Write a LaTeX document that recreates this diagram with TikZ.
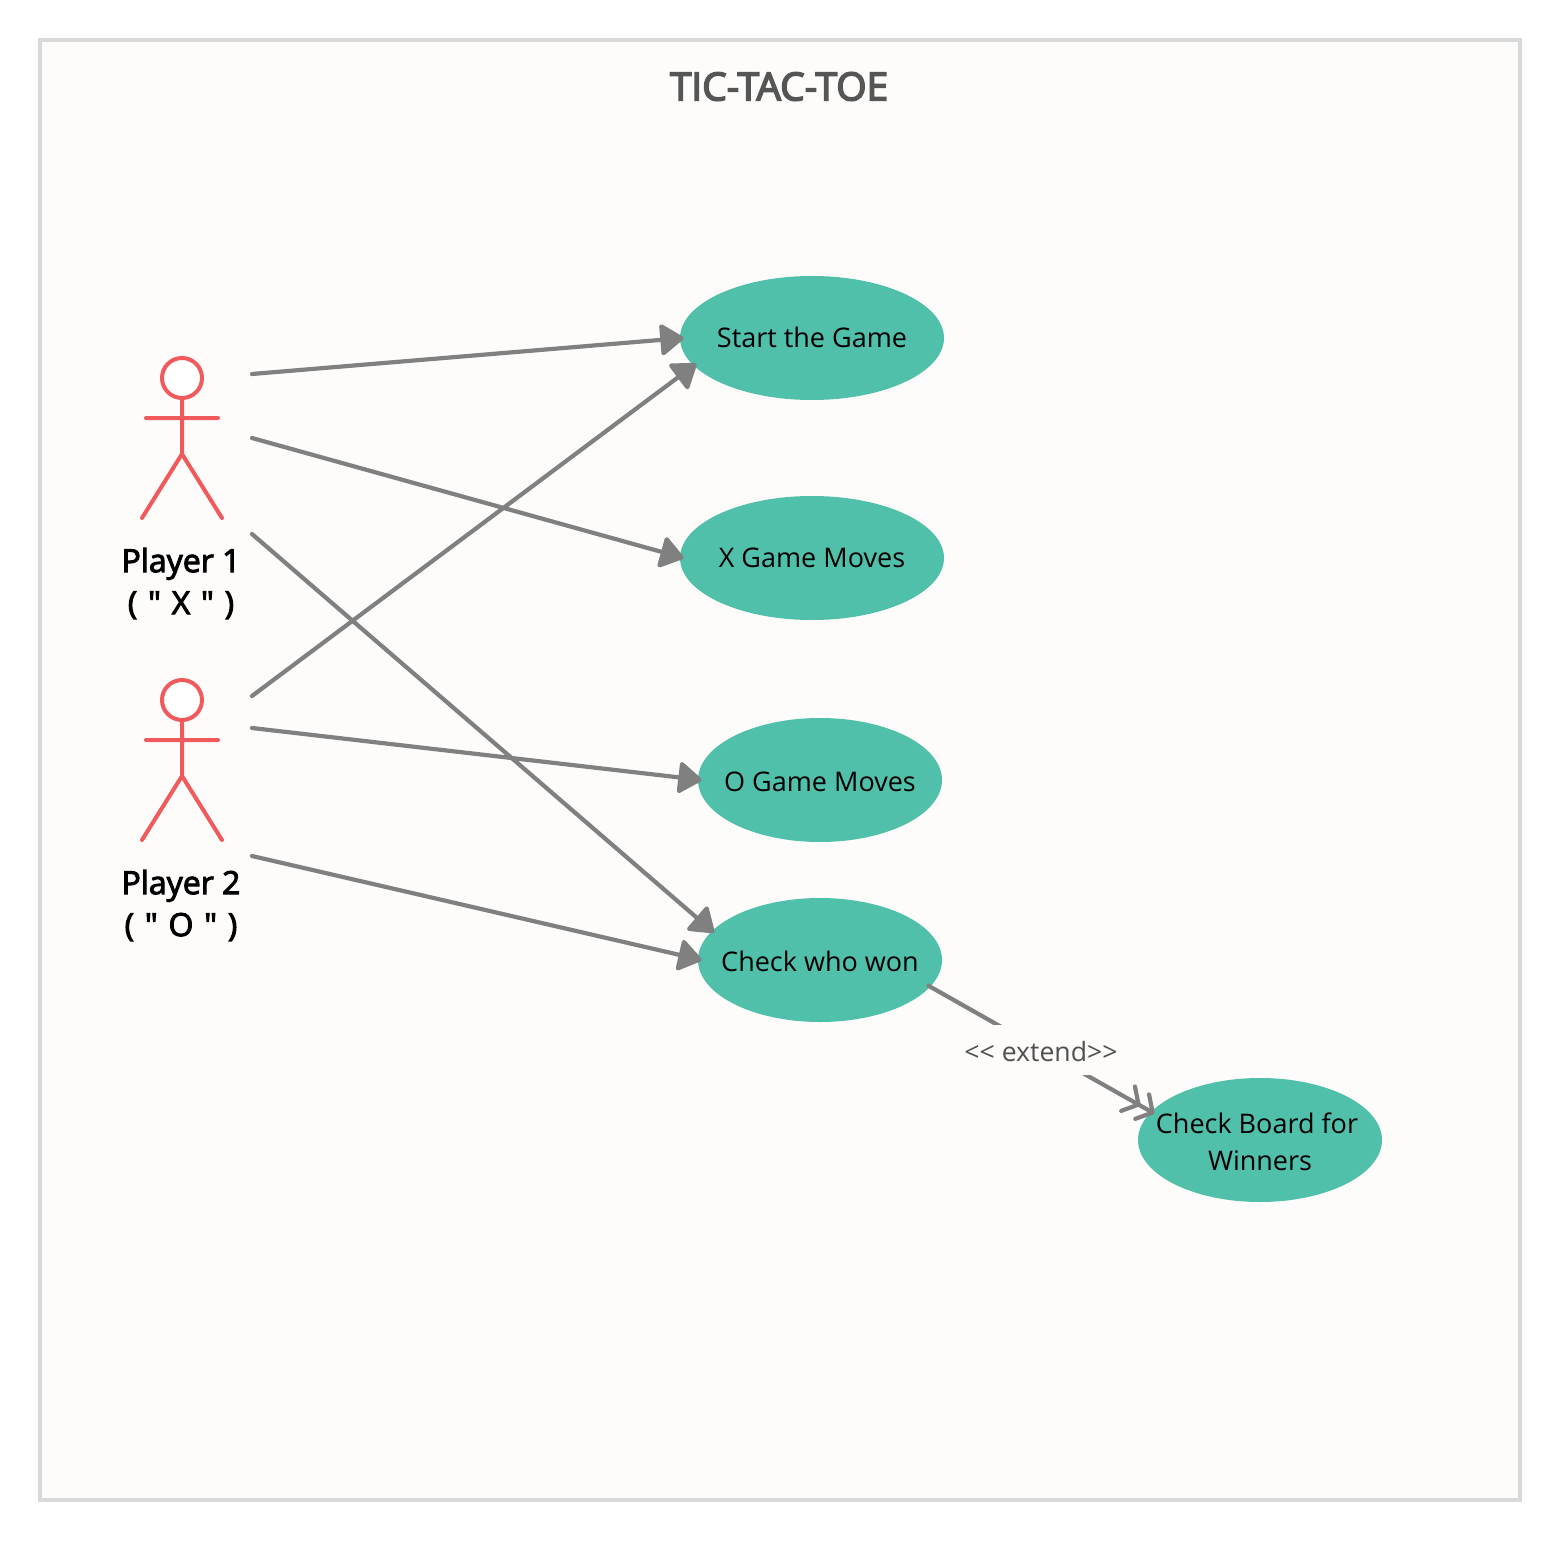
\documentclass[tikz,border=0pt]{standalone}
\usepackage{fontspec}
\newfontfamily\basefont{Open Sans}
\newfontfamily\actorfont[FakeBold=3]{Open Sans}
\newfontfamily\titlefont[FakeBold=4]{Open Sans}
\usetikzlibrary{arrows.meta,shapes.geometric}
\definecolor{bgc}{HTML}{FDFCFB}
\definecolor{framec}{HTML}{D9D9D9}
\definecolor{tealc}{HTML}{51C0AA}
\definecolor{redc}{HTML}{F15A5D}
\definecolor{linec}{HTML}{808080}
\definecolor{titlec}{HTML}{555555}
\definecolor{labelc}{HTML}{505050}
\newcommand{\zw}[2][-4.8pt]{\makebox[0pt]{\raisebox{#1}[0pt][0pt]{#2}}}
\tikzset{
  usecase/.style={ellipse,fill=tealc,inner sep=0pt,minimum width=122pt,minimum height=62pt,font=\basefont\fontsize{13.5}{18.5}\selectfont,align=center,text=black},
  actorline/.style={draw=redc,line width=2pt,line cap=round,line join=round},
  actorlabel/.style={font=\actorfont\fontsize{16}{21}\selectfont,align=center,text=black,inner sep=0pt},
  assoc/.style={draw=linec,line width=2.1pt,line cap=round,-{Triangle[length=12.5pt,width=17pt,round]}},
  ext/.style={draw=linec,line width=2.1pt,line cap=round,-{Straight Barb[length=6pt,width=14pt,round]Straight Barb[length=6pt,width=14pt,round]}},
}
\begin{document}
\begin{tikzpicture}[x=0.5pt,y=-0.5pt]
\useasboundingbox (0,0) rectangle (1560,1541);
\fill[white] (0,0) rectangle (1560,1541);
\draw[draw=framec,fill=bgc,line width=2pt] (40,40) rectangle (1520,1500);
\node[font=\titlefont\fontsize{19.4}{22}\selectfont,text=titlec,inner sep=0pt] (title) at (779,86.5) {TIC-TAC-TOE};
% actors
\draw[actorline,fill=white] (182,378) circle (20);
\draw[actorline] (182,398) -- (182,454) (146,418) -- (218,418) (142,518) -- (182,454) -- (222,518);
\node[actorlabel] (player1) at (181,583.5) {Player 1\\\spaceskip=5.4pt ( " X " )};
\draw[actorline,fill=white] (182,700) circle (20);
\draw[actorline] (182,720) -- (182,776) (146,740) -- (218,740) (142,840) -- (182,776) -- (222,840);
\node[actorlabel] (player2) at (181,905.5) {Player 2\\\spaceskip=5.4pt ( " O " )};
\coordinate (p1a) at (252,374);
\coordinate (p1b) at (252,438);
\coordinate (p1c) at (252,534);
\coordinate (p2a) at (252,696);
\coordinate (p2b) at (252,728);
\coordinate (p2c) at (252,856);
% use cases
\node[usecase,minimum width=132pt] (start) at (812,338) {\zw{Start the Game}};
\node[usecase,minimum width=132pt] (xmoves) at (812,558) {\zw{X Game Moves}};
\node[usecase] (omoves) at (820,780) {\zw[-5.8pt]{O Game Moves}};
\node[usecase] (check) at (820,960) {\zw[-5.5pt]{Check who won}};
\node[usecase] (board) at (1260,1140) {\zw[-6pt]{\hspace{-3pt}Check Board for}\\\zw[-6pt]{Winners}};
% connectors
\draw[assoc] (p1a) -- ([xshift=2pt]start.west);
\draw[assoc] (p1b) -- ([xshift=2pt]xmoves.west);
\draw[assoc] (p1c) -- ([xshift=2pt]check.166);
\draw[assoc] (p2a) -- ([xshift=2.5pt]start.192);
\draw[assoc] (p2b) -- ([xshift=2pt]omoves.west);
\draw[assoc] (p2c) -- ([xshift=2pt]check.west);
\draw[ext] ([xshift=-1.5pt]check.-13) -- node[pos=0.5,fill=bgc,inner sep=0pt,minimum height=25pt,text=labelc,font=\basefont\fontsize{13.3}{15}\selectfont] (extlabel) {\hspace{-0.5pt}\raisebox{-6pt}[0pt][0pt]{<< extend>>}} ([xshift=2.2pt,yshift=-0.5pt]board.166.6);
\end{tikzpicture}
\end{document}
